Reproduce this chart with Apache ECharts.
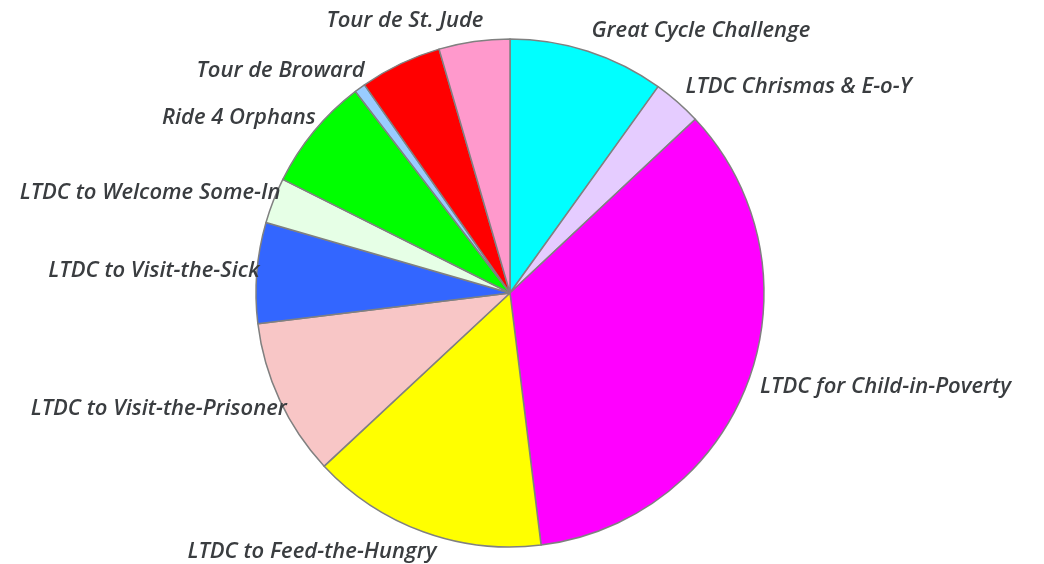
<!DOCTYPE html>
<html>
<head>
<meta charset="utf-8">
<script src="https://cdn.jsdelivr.net/npm/echarts@6/dist/echarts.min.js"></script>
<style>
  html, body { margin: 0; padding: 0; background: #fff; }
  #container { width: 1044px; height: 564px; }
</style>
</head>
<body>
<div id="container"></div>
<script>
// slices, clockwise from 12 o'clock
var names = ['Great Cycle Challenge', 'LTDC Chrismas & E-o-Y', 'LTDC for Child-in-Poverty',
    'LTDC to Feed-the-Hungry', 'LTDC to Visit-the-Prisoner', 'LTDC to Visit-the-Sick',
    'LTDC to Welcome Some-In', 'Ride 4 Orphans', 'Tour de Broward', '', 'Tour de St. Jude'];
var values = [9.9, 3.1, 35.0, 15.0, 10.0, 6.4, 2.9, 7.2, 0.7, 5.2, 4.5];
var colors = ['#00ffff', '#e5ccff', '#ff00ff', '#ffff00', '#f8c6c6', '#3366ff',
    '#e6ffe6', '#00ff00', '#99ccff', '#ff0000', '#ff99cc'];

var cx = 510, cy = 293, r = 254;

// mid angle of every slice (radians, clockwise from top)
var total = 0;
for (var i = 0; i < values.length; i++) total += values[i];
var midAngles = [];
var acc = 0;
for (var i = 0; i < values.length; i++) {
    midAngles.push((acc + values[i] / 2) / total * 2 * Math.PI);
    acc += values[i];
}

var data = [];
for (var i = 0; i < names.length; i++) {
    var item = { name: names[i], value: values[i], itemStyle: { color: colors[i] } };
    if (names[i] === '') item.label = { show: false };
    data.push(item);
}

var myChart = echarts.init(document.getElementById('container'));
var option = {
    animation: false,
    series: [{
        type: 'pie',
        center: [cx, cy],
        radius: r,
        startAngle: 90,
        clockwise: true,
        avoidLabelOverlap: false,
        itemStyle: { borderColor: '#808080', borderWidth: 1.5 },
        label: {
            show: true,
            position: 'outside',
            color: '#3a3d40',
            fontFamily: 'Open Sans',
            fontSize: 22,
            fontWeight: 600,
            fontStyle: 'italic'
        },
        labelLine: { show: false, length: 0, length2: 0 },
        // labels sit just outside the rim, text pulled up/down depending on angle
        labelLayout: function (params) {
            var a = midAngles[params.dataIndex];
            var w = params.labelRect.width;
            var ax = cx + (r + 12) * Math.sin(a);
            var ay = cy - (r + 12) * Math.cos(a);
            var left = Math.sin(a) >= 0 ? ax : ax + 0.07 * w - w;
            return {
                x: left,
                y: ay - Math.cos(a) * 9,
                align: 'left',
                verticalAlign: 'middle'
            };
        },
        data: data
    }]
};
myChart.setOption(option);
</script>
</body>
</html>
